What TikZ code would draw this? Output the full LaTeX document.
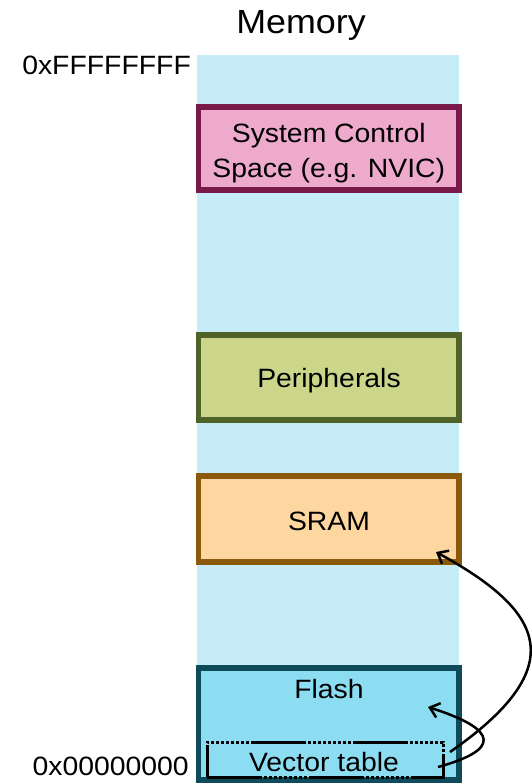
\documentclass[tikz,border=0pt]{standalone}
\usepackage{fontspec}
\setmainfont[FakeStretch=1.07]{Liberation Sans}
\usetikzlibrary{arrows.meta}
\definecolor{bgcol}{HTML}{C6EDF7}
\definecolor{scsfill}{HTML}{EEAACC}
\definecolor{scsdraw}{HTML}{7A1A4A}
\definecolor{perfill}{HTML}{CCD68A}
\definecolor{perdraw}{HTML}{4F6228}
\definecolor{sramfill}{HTML}{FED7A0}
\definecolor{sramdraw}{HTML}{8A5A0A}
\definecolor{flashfill}{HTML}{8CDDF2}
\definecolor{flashdraw}{HTML}{0E4A5A}
\tikzset{
  memtext/.style={font=\fontsize{26.5}{35}\selectfont, inner sep=0pt, text=black},
  membox/.style={rectangle, line width=5.5pt, minimum width=260.5pt, inner sep=0pt},
  vtbox/.style={rectangle, draw=black, line width=3pt, minimum width=236pt, minimum height=35pt, inner sep=0pt,
    dash pattern=on 55pt off 2pt on 3pt off 2pt on 3pt off 2pt on 3pt off 2pt on 3pt off 2pt on 3pt off 2pt on 3pt off 2pt on 3pt off 2pt on 3pt off 2pt on 3pt off 2pt},
  ptr/.style={draw=black, line width=2.5pt, -{Straight Barb[length=9pt,width=15pt]}},
}
\begin{document}
\begin{tikzpicture}[x=1pt,y=-1pt]
\useasboundingbox (0,0) rectangle (531,783);
% memory column
\fill[bgcol] (197,55) rectangle (459,783);
% regions
\node[membox, draw=scsdraw, fill=scsfill, minimum height=83pt] (scs) at (328.75,148.5) {};
\node[membox, draw=perdraw, fill=perfill, minimum height=85pt] (per) at (328.75,377.5) {};
\node[membox, draw=sramdraw, fill=sramfill, minimum height=86pt] (sram) at (328.75,519) {};
\node[membox, draw=flashdraw, fill=flashfill, minimum height=112pt] (flash) at (328.75,724) {};
\node[vtbox] (vt) at (325,759.5) {};
% texts
\node[memtext, font=\fontsize{33.5}{40}\selectfont, anchor=base] (memtitle) at (301,34) {Memory};
\node[memtext, align=center] (scstext) at (328.75,153.5) {System Control\\Space (e.g. NVIC)};
\node[memtext, anchor=base] (pertext) at (329,387) {Peripherals};
\node[memtext, anchor=base] (sramtext) at (329,530.5) {SRAM};
\node[memtext, anchor=base] (flashtext) at (329,698) {Flash};
\node[memtext, anchor=base] (vttext) at (324,771) {Vector table};
\node[memtext, anchor=base east] (topaddr) at (191,75) {0xFFFFFFFF};
\node[memtext, anchor=base east] (botaddr) at (189,775) {0x00000000};
% pointers
\coordinate (vtA) at (450,752);
\coordinate (vtB) at (438,767);
\coordinate (sramtip) at (436,552);
\coordinate (flashtip) at (428,707);
\draw[ptr] (vtA) .. controls (575,665) and (542,610) .. (sramtip);
\draw[ptr] (vtB) .. controls (500,750) and (500,730) .. (flashtip);
\end{tikzpicture}
\end{document}
